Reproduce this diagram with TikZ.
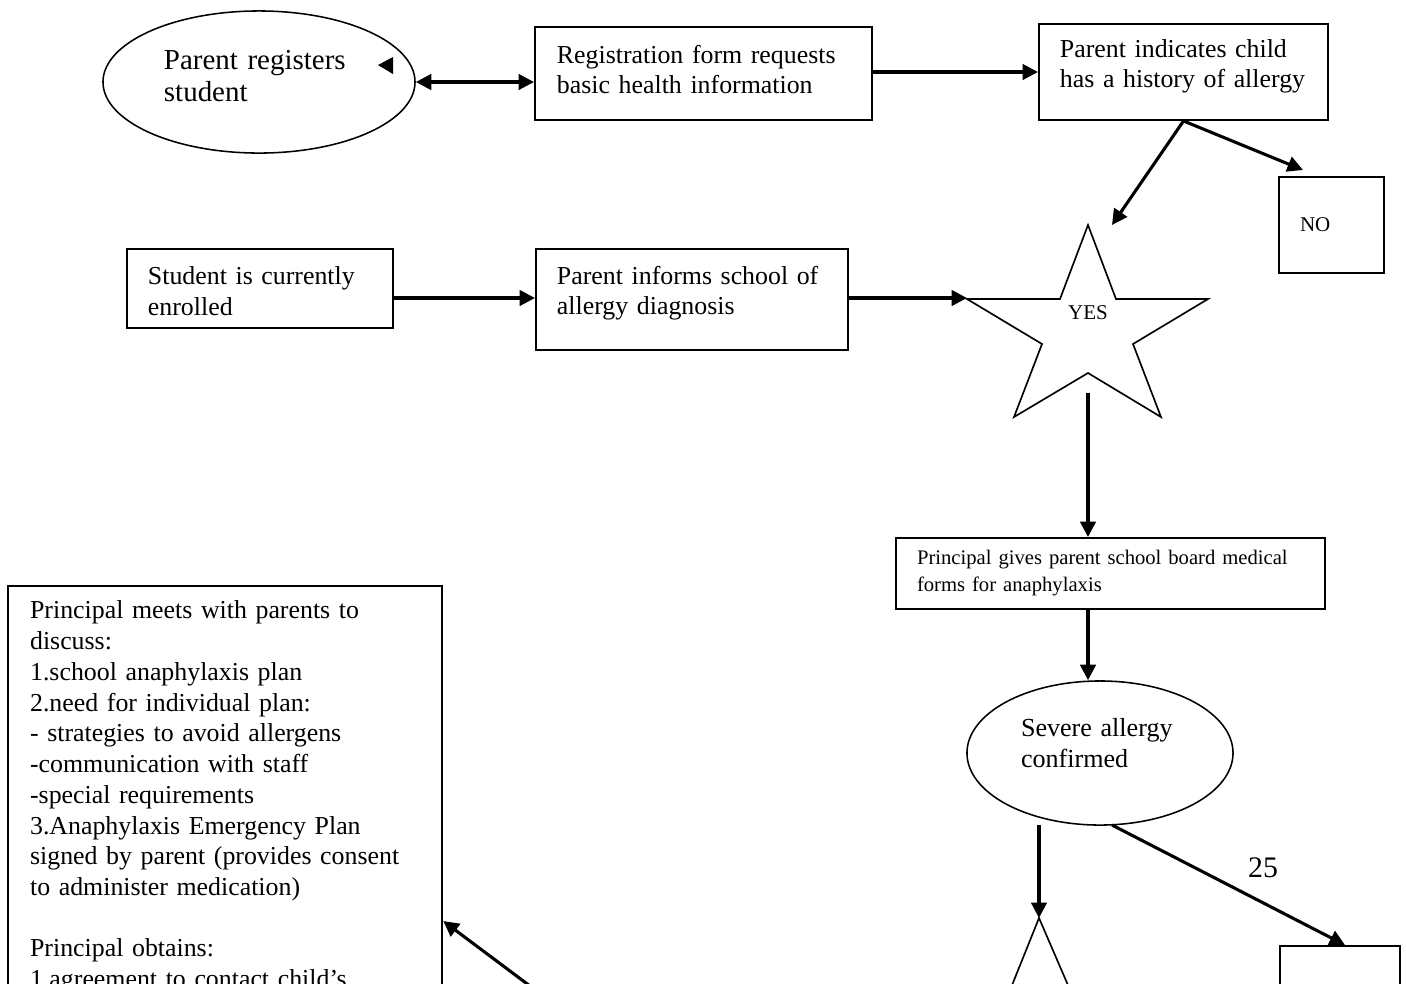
\documentclass[tikz,border=0pt]{standalone}
\usepackage{fontspec}
\setmainfont{Liberation Serif}
\usetikzlibrary{shapes, arrows.meta, positioning, calc}

\begin{document}
\begin{tikzpicture}[x=0.4525pt,y=-0.4525pt,
	box/.style={draw,line width=0.9pt,rectangle,inner xsep=9.5pt,inner ysep=0pt,align=left,font=\fontsize{11.7}{13.8}\selectfont},
	oval/.style={draw,line width=0.7pt,ellipse,inner sep=0pt,align=left,font=\fontsize{11.8}{14}\selectfont},
	arr/.style={line width=1.4pt,-{Triangle[length=7pt,width=7pt]}},
	dblarr/.style={line width=1.4pt,{Triangle[length=7pt,width=7pt]}-{Triangle[length=7pt,width=7pt]}}]
	\useasboundingbox (0,0) rectangle (1406,983);
	\clip (0,0) rectangle (1406,983);

	\node[oval,minimum width=141.2pt,minimum height=64.3pt,text width=86pt,text depth=20pt,font=\fontsize{13.1}{14.6}\selectfont] (reg) at (259,82) {Parent registers\\student};
	\node[box,minimum width=152.5pt,minimum height=42.1pt,text width=132.6pt,text depth=17.3pt] (form) at (703.5,73.5) {Registration form requests\\basic health information};
	\node[box,minimum width=130.8pt,minimum height=43.4pt,text width=111.8pt,text depth=21.6pt] (hist) at (1183.5,72) {Parent indicates child\\\mbox{has a history of allergy}};
	\node[box,minimum width=47.5pt,minimum height=43.4pt,text width=28.5pt,font=\fontsize{9.5}{11}\selectfont] (no) at (1331.5,225) {NO};
	\node[box,minimum width=120.4pt,minimum height=35.7pt,text width=101.4pt,text depth=11.3pt] (enr) at (260,288.5) {Student is currently\\enrolled};
	\node[box,minimum width=141.2pt,minimum height=45.7pt,text width=122.2pt,text depth=22.1pt] (inf) at (692,299.5) {Parent informs school of\\allergy diagnosis};
	\node[font=\fontsize{9.5}{11}\selectfont] (yes) at (1088,313) {YES};
	\node[box,minimum width=194.1pt,minimum height=32.1pt,text width=175.1pt,font=\fontsize{9.35}{12.2}\selectfont] (give) at (1110.5,573.5) {Principal gives parent school board medical\\forms for anaphylaxis};
	\node[oval,minimum width=120.4pt,minimum height=65.2pt,text width=71.5pt,text depth=23.2pt] (sev) at (1100,753) {Severe allergy\\confirmed};
	\node[box,anchor=north west,inner xsep=10pt,inner ysep=6.8pt,text width=176.5pt,font=\fontsize{11.7}{13.9}\selectfont] (plan) at (7,585) {Principal meets with parents to\\
		discuss:\\
		1.school anaphylaxis plan\\
		2.need for individual plan:\\
		- strategies to avoid allergens\\
		-communication with staff\\
		-special requirements\\
		3.Anaphylaxis Emergency Plan\\
		signed by parent (provides consent\\
		to administer medication)\\[13.9pt]
		Principal obtains:\\
		1.agreement to contact child’s};
	\node[draw,line width=0.9pt,anchor=north west,minimum width=54.3pt,minimum height=60pt] (ans) at (1279,945) {};
	\node[font=\fontsize{13.5}{15}\selectfont] (cnt) at (1263,868) {25};

	\coordinate (ytop) at (1112,225);
	\coordinate (yl) at (967,298);
	\coordinate (ybot) at (1088,393);
	\coordinate (nto) at (1303,170);
	\coordinate (sevl) at (1039,825);
	\coordinate (sevr) at (1112,825);
	\coordinate (tri) at (1039,918);
	\coordinate (anst) at (1345,945);
	\coordinate (ptip) at (441,921);
	\coordinate (ptail) at (570,1016);

	\draw[line width=0.75pt] (1088,225) \foreach \p in {(1116,299),(1208,299),(1133,344),(1161,417),(1088,373),(1014,417),(1042,344),(967,299),(1060,299)} {-- \p} -- cycle;
	\draw[line width=0.75pt] (986,1050) -- (tri) -- (1096,1050);
	\fill (378,65) -- (393,57) -- (393,74) -- cycle;

	\draw[dblarr] (reg.east) -- (reg.east -| form.west);
	\draw[arr] (form.east |- hist.west) -- (hist.west);
	\draw[arr] (hist.south) -- (ytop);
	\draw[arr] (hist.south) -- (nto);
	\draw[arr] (enr.east |- yl) -- (inf.west |- yl);
	\draw[arr] (inf.east |- yl) -- (yl);
	\draw[arr] (ybot) -- (ybot |- give.north);
	\draw[arr] (ybot |- give.south) -- (ybot |- sev.north);
	\draw[arr] (sevl) -- (tri);
	\draw[arr] (sevr) -- (anst);
	\draw[arr] (ptail) -- (plan.east |- ptip);
\end{tikzpicture}
\end{document}
